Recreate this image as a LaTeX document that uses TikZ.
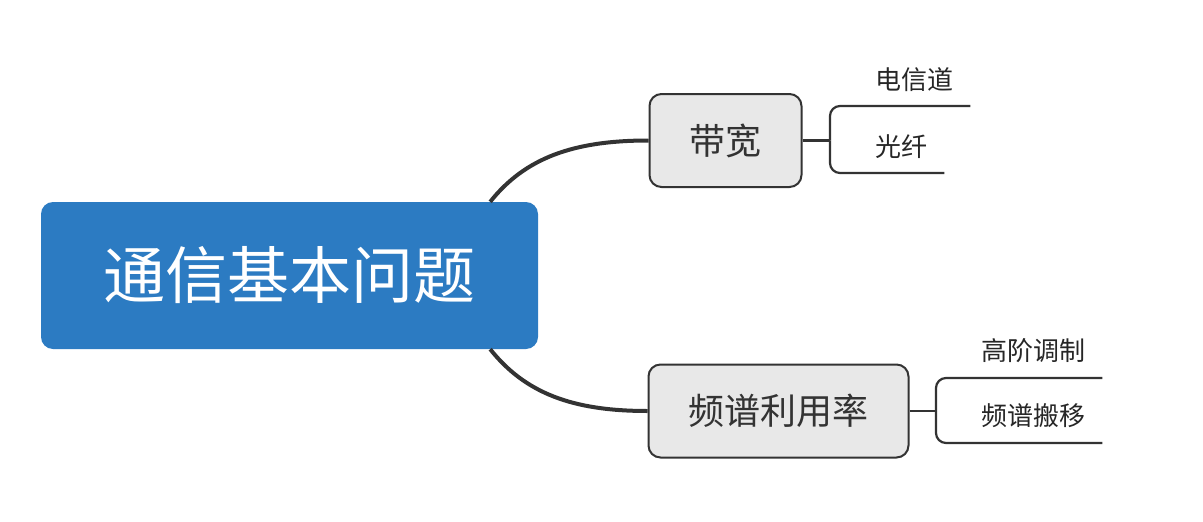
\documentclass[tikz,border=0pt]{standalone}
\usepackage{fontspec}
\setmainfont{Noto Sans CJK SC}
\usepackage{tikz}
\usetikzlibrary{positioning, calc}
\definecolor{mapblue}{RGB}{44, 123, 194}
\definecolor{mapgrey}{RGB}{232, 232, 232}
\definecolor{mapline}{RGB}{51, 51, 51}

\begin{document}
\begin{tikzpicture}[
    x=1pt, y=-1pt,
    root/.style={rectangle, rounded corners=12pt, fill=mapblue, text=white,
                 minimum width=497pt, minimum height=147pt,
                 font=\fontsize{62}{70}\selectfont},
    topic/.style={rectangle, rounded corners=12pt, draw=mapline, line width=2pt,
                  fill=mapgrey, text=mapline, inner xsep=40pt,
                  minimum height=93pt, font=\fontsize{36}{42}\selectfont},
    leaf/.style={anchor=south west, inner xsep=17pt, inner ysep=0pt,
                 minimum height=53pt, text=black!85,
                 font=\fontsize{26}{30}\selectfont},
    trunk/.style={draw=mapline, line width=4pt},
    twig/.style={draw=mapline, line width=2.2pt, rounded corners=10pt}
]
\useasboundingbox (0,0) rectangle (1203,522);

\node[root]  (root) at (289.5,275.5) {通信基本问题};
\node[topic] (band) at (725.5,140.5) {带宽};
\node[topic] (spec) at (778.5,411)   {频谱利用率};

\coordinate (bandfork) at (830,140.5);
\coordinate (specfork) at (936,411);

\node[leaf] (wire)  at (858,106) {电信道};
\node[leaf] (fiber) at (858,173) {光纤};
\node[leaf, minimum height=55pt] (hmod)  at (964,378) {高阶调制};
\node[leaf, minimum height=55pt] (shift) at (964,443) {频谱搬移};

% Branches
\draw[trunk] ([xshift=-48pt]root.north east) .. controls +(35,-44) and +(-75,0) .. (band.west);
\draw[trunk] ([xshift=-48pt]root.south east) .. controls +(35,44) and +(-75,0) .. (spec.west);

\draw[twig] (band.east) -- (bandfork);
\draw[twig] (bandfork) |- (wire.south west) -- (wire.south east);
\draw[twig] (bandfork) |- (fiber.south west) -- (fiber.south east);

\draw[twig] (spec.east) -- (specfork);
\draw[twig] (specfork) |- (hmod.south west) -- (hmod.south east);
\draw[twig] (specfork) |- (shift.south west) -- (shift.south east);

\end{tikzpicture}
\end{document}
